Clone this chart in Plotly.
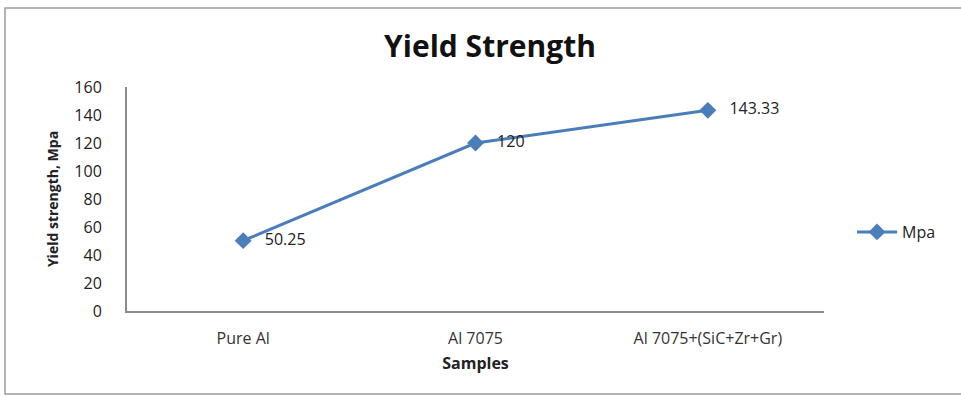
import plotly.graph_objects as go

# Yield strength of each sample (MPa)
samples = ["Pure Al", "Al 7075", "Al 7075+(SiC+Zr+Gr)"]
yield_mpa = [50.25, 120, 143.33]
value_labels = ["50.25", "120", "143.33"]
y_ticks = [0, 20, 40, 60, 80, 100, 120, 140, 160]

W, H = 961, 396
L, R, T, B = 127, 137, 87, 85
pw, ph = W - L - R, H - T - B

def px_x(x):
    return (x - L) / pw

def px_y(y):
    return (H - B - y) / ph

blue = "#4a7ebb"
font = "'Open Sans', Lato, sans-serif"

fig = go.Figure()
fig.add_trace(go.Scatter(
    x=samples, y=yield_mpa, name="Mpa",
    mode="lines+markers+text",
    line=dict(color=blue, width=3),
    marker=dict(symbol="diamond", size=13, color=blue),
    # leading spaces keep the value clear of the marker
    text=["   " + t for t in value_labels], textposition="middle right",
    textfont=dict(size=16, color="#222222", family=font),
    cliponaxis=False,
))

fig.update_layout(
    width=W, height=H,
    margin=dict(l=L, r=R, t=T, b=B),
    paper_bgcolor="white", plot_bgcolor="white",
    font=dict(family=font, color="#222222"),
    title=dict(text="<b>Yield Strength</b>", x=490 / W, xanchor="center",
               y=1 - 46 / H, yanchor="middle",
               font=dict(size=30, color="#111111", family=font)),
    showlegend=True,
    legend=dict(x=px_x(852), y=px_y(232), xanchor="left", yanchor="middle",
                font=dict(size=16, color="#222222", family=font),
                itemwidth=40, bgcolor="rgba(0,0,0,0)"),
    xaxis=dict(
        type="category", range=[-0.5, 2.5],
        showline=True, linecolor="#8c8c8c", linewidth=2,
        showgrid=False, zeroline=False, ticks="",
        ticklabelstandoff=12,
        tickfont=dict(size=16, color="#333333", family=font),
        title=dict(text="<b>Samples</b>", standoff=10,
                   font=dict(size=16, color="#222222", family=font)),
    ),
    yaxis=dict(
        range=[0, 160], tickvals=y_ticks,
        showline=True, linecolor="#8c8c8c", linewidth=2,
        showgrid=False, zeroline=False, ticks="",
        ticklabelstandoff=20,
        tickfont=dict(size=16, color="#222222", family=font),
        title=dict(text="<b>Yield strength, Mpa</b>", standoff=12,
                   font=dict(size=14, color="#222222", family=font)),
    ),
    shapes=[dict(type="rect", xref="paper", yref="paper",
                 x0=px_x(5), x1=px_x(975), y0=px_y(394), y1=px_y(8),
                 line=dict(color="#9a9a9a", width=1.5),
                 fillcolor="rgba(0,0,0,0)", layer="below")],
)

fig.write_html("out.html")
